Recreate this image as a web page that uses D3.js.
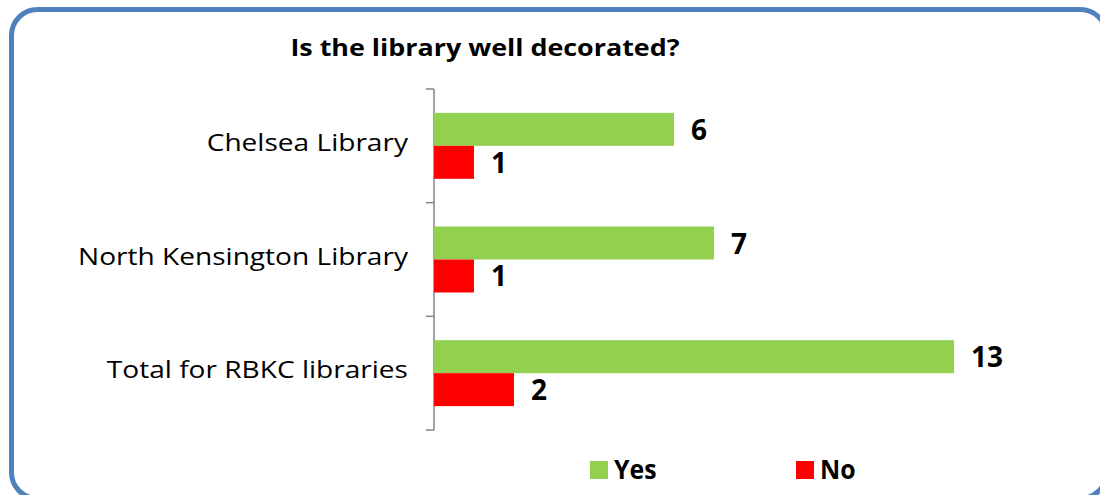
<!DOCTYPE html>
<html>
<head>
<meta charset="utf-8">
<script src="https://d3js.org/d3.v7.min.js"></script>
<style>
  body { margin: 0; background: #fff; }
  svg { display: block; font-family: "Open Sans", sans-serif; }
</style>
</head>
<body>
<svg width="1100" height="495"></svg>
<script>
var categories = ["Chelsea Library", "North Kensington Library", "Total for RBKC libraries"];
var yesValues = [6, 7, 13];
var noValues = [1, 1, 2];
var seriesNames = ["Yes", "No"];
var seriesColors = ["#92d050", "#ff0000"];

var svg = d3.select("svg");

// outer rounded frame
svg.append("rect")
  .attr("x", 11.5).attr("y", 9.5)
  .attr("width", 1095).attr("height", 489)
  .attr("rx", 26).attr("ry", 26)
  .attr("fill", "#fff")
  .attr("stroke", "#4f81bd")
  .attr("stroke-width", 5);

// title (source font is wider, so stretch a little)
svg.append("text")
  .attr("transform", "translate(485,56) scale(1.12,1)")
  .attr("text-anchor", "middle")
  .style("font-weight", "bold")
  .style("font-size", "24px")
  .text("Is the library well decorated?");

var x = d3.scaleLinear().domain([0, 1]).range([434, 474]);
var y = d3.scaleBand().domain(categories).range([89, 430]);
var sub = d3.scaleBand().domain(seriesNames).range([y.bandwidth() * 0.21, y.bandwidth() * 0.79]);

// y axis
var axis = svg.append("g")
  .attr("transform", "translate(434,0)")
  .call(d3.axisLeft(y).tickValues([]).tickSizeOuter(0));
axis.select(".domain").remove();
axis.append("line")
  .attr("x1", 0).attr("x2", 0)
  .attr("y1", y.range()[0]).attr("y2", y.range()[1])
  .attr("stroke", "#868686").attr("stroke-width", 1.5);
var bounds = categories.map(function(c) { return y(c); }).concat([y.range()[1]]);
axis.selectAll(".sep").data(bounds).enter().append("line")
  .attr("x1", -8).attr("x2", 0)
  .attr("y1", function(d) { return d; }).attr("y2", function(d) { return d; })
  .attr("stroke", "#868686").attr("stroke-width", 1.5);

// category labels
svg.selectAll(".cat").data(categories).enter().append("text")
  .attr("transform", function(d) {
    return "translate(408," + (y(d) + y.bandwidth() / 2 + 5) + ") scale(1.17,1)";
  })
  .attr("text-anchor", "end")
  .style("font-size", "24px")
  .text(function(d) { return d; });

var series = [yesValues, noValues];
series.forEach(function(vals, si) {
  var name = seriesNames[si];
  svg.selectAll(".bar" + si).data(vals).enter().append("rect")
    .attr("x", x(0))
    .attr("y", function(d, i) { return y(categories[i]) + sub(name); })
    .attr("width", function(d) { return x(d) - x(0); })
    .attr("height", sub.bandwidth())
    .attr("fill", seriesColors[si]);
  svg.selectAll(".val" + si).data(vals).enter().append("text")
    .attr("x", function(d) { return x(d) + 17; })
    .attr("y", function(d, i) { return y(categories[i]) + sub(name) + sub.bandwidth() / 2 + 10.5; })
    .style("font-weight", "bold")
    .style("font-size", "28px")
    .text(function(d) { return d; });
});

// legend
var legendX = [590, 796];
seriesNames.forEach(function(name, i) {
  svg.append("rect")
    .attr("x", legendX[i]).attr("y", 461)
    .attr("width", 18).attr("height", 18)
    .attr("fill", seriesColors[i]);
  svg.append("text")
    .attr("transform", "translate(" + (legendX[i] + 24) + ",479) scale(0.92,1)")
    .style("font-weight", "bold")
    .style("font-size", "27px")
    .text(name);
});
</script>
</body>
</html>
